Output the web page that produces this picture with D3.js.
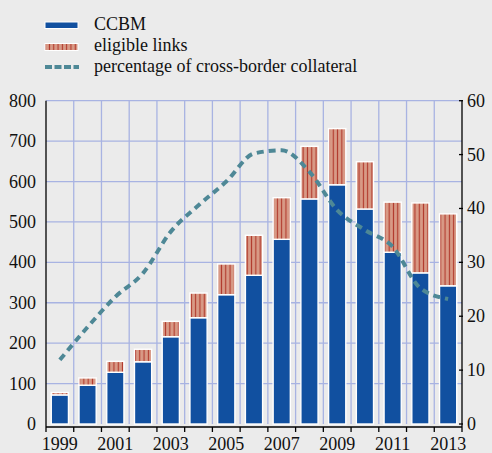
<!DOCTYPE html>
<html><head><meta charset="utf-8">
<script src="https://cdn.jsdelivr.net/npm/d3@7"></script>
</head>
<body style="margin:0;background:#ebebeb">
<svg id="c" width="492" height="453"></svg>
<script>
const years = ["1999","2000","2001","2002","2003","2004","2005","2006","2007","2008","2009","2010","2011","2012","2013"];
const ccbm = [72, 96, 128, 154, 216, 263, 320, 368, 457, 557, 592, 532, 425, 374, 342];
const eligibleLinks = [6, 18, 27, 31, 38, 61, 76, 99, 103, 130, 139, 117, 124, 173, 178];
const crossBorderPct = [11.9, 18.0, 23.6, 28.0, 35.7, 40.6, 45.0, 50.2, 50.8, 46.8, 39.7, 36.0, 32.9, 25.2, 23.2];
const leftTicks = [0,100,200,300,400,500,600,700,800];
const rightTicks = [0,10,20,30,40,50,60];
const xLabelYears = ["1999","2001","2003","2005","2007","2009","2011","2013"];
const legendLabels = ["CCBM","eligible links","percentage of cross-border collateral"];

const svg = d3.select("#c");
const L = 46, R = 462, T = 100.7, B = 424;
const x = d3.scaleBand().domain(years).range([L, R]).paddingInner(0.38).paddingOuter(0.19);
const xb = d3.scaleBand().domain(years).range([L, R]);
const y = d3.scaleLinear().domain([0, 800]).range([B, T]);
const y2 = d3.scaleLinear().domain([0, 60]).range([B, T]);
const gridCol = "#a8b3e2";

svg.append("rect").attr("width",492).attr("height",453).attr("fill","#ebebeb");

const defs = svg.append("defs");
const pat = defs.append("pattern").attr("id","hatch").attr("patternUnits","userSpaceOnUse")
  .attr("width",4.3).attr("height",10);
pat.append("rect").attr("width",4.3).attr("height",10).attr("fill","#d89a86");
pat.append("rect").attr("x",1.6).attr("width",1.1).attr("height",10).attr("fill","#b0372a");

svg.selectAll("line.h").data(leftTicks.filter(d=>d>0)).join("line").attr("class","h")
  .attr("x1",L).attr("x2",R).attr("y1",d=>y(d)).attr("y2",d=>y(d))
  .attr("stroke",gridCol).attr("stroke-width",1.3);
svg.selectAll("line.v").data(years.slice(1)).join("line").attr("class","v")
  .attr("x1",d=>xb(d)).attr("x2",d=>xb(d)).attr("y1",T).attr("y2",B)
  .attr("stroke",gridCol).attr("stroke-width",1.3);

svg.selectAll("rect.c").data(years).join("rect").attr("class","c")
  .attr("x",d=>x(d)).attr("width",x.bandwidth())
  .attr("y",(d,i)=>y(ccbm[i])).attr("height",(d,i)=>y(0)-y(ccbm[i]))
  .attr("fill","#1150a0").attr("stroke","#ffffff").attr("stroke-width",1.4);
svg.selectAll("rect.e").data(years).join("rect").attr("class","e")
  .attr("x",d=>x(d)).attr("width",x.bandwidth())
  .attr("y",(d,i)=>y(ccbm[i]+eligibleLinks[i])).attr("height",(d,i)=>y(ccbm[i])-y(ccbm[i]+eligibleLinks[i]))
  .attr("fill","url(#hatch)").attr("stroke","#ffffff").attr("stroke-width",1.4);

const line = d3.line().x((d,i)=>xb(years[i])+xb.bandwidth()/2).y(d=>y2(d)).curve(d3.curveMonotoneX);
svg.append("path").datum(crossBorderPct).attr("d",line).attr("fill","none")
  .attr("stroke","#4e8896").attr("stroke-width",4).attr("stroke-dasharray","7,5");

const ax = svg.append("g").attr("stroke","#000").attr("fill","none");
ax.append("line").attr("x1",L).attr("x2",L).attr("y1",T).attr("y2",B+3).attr("stroke-width",1.3);
ax.append("line").attr("x1",R).attr("x2",R).attr("y1",T).attr("y2",B+3).attr("stroke-width",1.3);
ax.append("line").attr("x1",L).attr("x2",R).attr("y1",B+3).attr("y2",B+3).attr("stroke-width",1.3);
ax.selectAll("line.xt").data(years.concat(["end"])).join("line")
  .attr("x1",(d,i)=>i<years.length?xb(d):R).attr("x2",(d,i)=>i<years.length?xb(d):R)
  .attr("y1",B+3).attr("y2",B+8).attr("stroke-width",1.3);
ax.selectAll("line.rt").data(rightTicks).join("line")
  .attr("x1",R-3).attr("x2",R+1).attr("y1",d=>y2(d)).attr("y2",d=>y2(d)).attr("stroke-width",1.3);

function styleText(sel){
  return sel.attr("font-size",18).attr("fill","#111")
    .style("font-family",'"Liberation Serif"').attr("font-family","Liberation Serif");
}
styleText(svg.selectAll("text.l").data(leftTicks).join("text").attr("class","l"))
  .attr("x",36).attr("y",d=>y(d)+6).attr("text-anchor","end").text(d=>d);
styleText(svg.selectAll("text.r").data(rightTicks).join("text").attr("class","r"))
  .attr("x",467).attr("y",d=>y2(d)+6).text(d=>d);
styleText(svg.selectAll("text.x").data(xLabelYears).join("text").attr("class","x"))
  .attr("x",d=>xb(d)+xb.bandwidth()/2).attr("y",450).attr("text-anchor","middle").text(d=>d);

svg.append("rect").attr("x",45).attr("y",22).attr("width",33).attr("height",6.5).attr("fill","#1150a0").attr("stroke","#fff").attr("stroke-width",1);
svg.append("rect").attr("x",45).attr("y",43.5).attr("width",33).attr("height",7).attr("fill","url(#hatch)").attr("stroke","#fff").attr("stroke-width",1);
svg.append("line").attr("x1",45).attr("x2",79).attr("y1",67).attr("y2",67).attr("stroke","#4e8896").attr("stroke-width",4).attr("stroke-dasharray","7,2.5");
styleText(svg.selectAll("text.lg").data(legendLabels).join("text").attr("class","lg"))
  .attr("x",94).attr("y",(d,i)=>30+i*20.8).text(d=>d);
</script>
</body></html>
